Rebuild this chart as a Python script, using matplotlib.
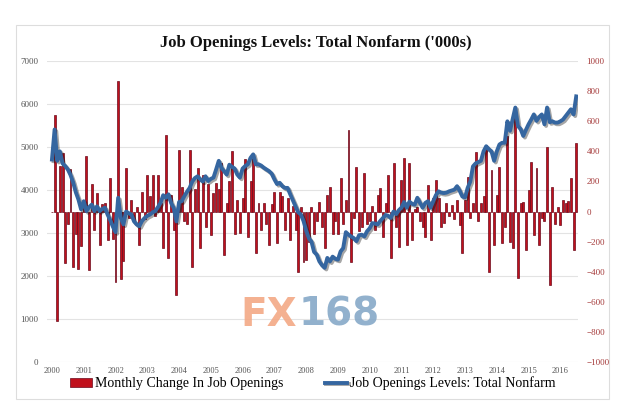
import numpy as np
import matplotlib.pyplot as plt
import matplotlib.patheffects as pe
from matplotlib.patches import Rectangle

# monthly job openings level ('000s), left axis
levels = [
    4710, 5410, 4680, 4900, 4620, 4560, 4480, 4350, 4180, 3950, 3780, 3550,
    3740, 3510, 3600, 3660, 3510, 3620, 3510, 3560, 3590, 3430, 3300, 3150,
    3020, 3820, 3350, 3200, 3500, 3460, 3430, 3270, 3200, 3160, 3280, 3350,
    3400, 3430, 3480, 3510, 3600, 3700, 3880, 3820, 3900, 3700, 3580, 3270,
    3720, 3740, 3860, 3960, 4050, 4200, 4280, 4320, 4250, 4200, 4320, 4210,
    4260, 4290, 4480, 4680, 4520, 4440, 4360, 4590, 4540, 4500, 4360, 4290,
    4500, 4560, 4600, 4750, 4830, 4600, 4600, 4570, 4520, 4480, 4440, 4380,
    4250, 4140, 4170, 4090, 4050, 4050, 3900, 3760, 3620, 3480, 3430, 3280,
    3060, 2880, 2800, 2560, 2500, 2340, 2250, 2190, 2420, 2340, 2450, 2400,
    2380, 2570, 2650, 3020, 2960, 2920, 2880, 2810, 2950, 2960, 2920, 3040,
    3110, 3230, 3220, 3200, 3280, 3350, 3420, 3400, 3350, 3500, 3440, 3530,
    3590, 3720, 3590, 3730, 3680, 3660, 3820, 3700, 3590, 3700, 3740, 3590,
    3740, 3880, 3970, 3940, 3930, 3940, 3970, 3990, 4010, 4090, 3980, 3850,
    3830, 4050, 4200, 4550, 4620, 4650, 4680, 4900, 5020, 4950, 4900, 4680,
    4900, 5060, 5100, 5100, 5600, 5380, 5650, 5920, 5490, 5420, 5260, 5400,
    5530, 5640, 5760, 5610, 5700, 5760, 5530, 5920, 5580, 5600, 5570, 5570,
    5600, 5640, 5720, 5800, 5880, 5760, 6180,
]

# monthly change ('000s), right axis
changes = [
    0, 640, -730, 300, 390, -340, -80, 280, -370, -150, -380, -230,
    60, 370, -390, 180, -120, 120, -220, 50, 60, -190, 220, -180,
    -470, 870, -450, -330, 290, -40, 80, -60, 30, -220, 130, -50,
    240, 100, 240, -30, 240, 60, -240, 510, -310, 110, -120, -555,
    410, 160, -60, -80, 410, -367, 150, 290, -245, 240, -100, 180,
    -156, 120, 190, 150, 320, -290, 60, 200, 400, -150, 80, -140,
    90, 350, -167, 200, 375, -278, 60, -123, 60, -80, -222, 50,
    130, -211, 130, 100, -120, 90, -189, 40, -120, -400, 30, -333,
    -322, -200, 30, -150, -60, 65, -100, -245, 110, 165, -150, -60,
    -150, 220, -80, 75, 541, -333, -40, 298, -130, -100, 254, -80,
    -60, 40, -120, 110, 154, -167, 60, 242, -311, 320, -100, -234,
    209, 353, -222, 320, -189, 20, 30, -60, -103, -167, 176, -189,
    90, 209, 90, -100, -78, 55, -33, 45, -50, 75, -90, -278,
    75, 231, -40, 60, 397, -60, 55, 100, 440, -400, 276, -222,
    110, 298, -211, -100, 500, -200, -245, 690, -444, 60, 65, -256,
    143, 331, -155, 287, -222, -40, -60, 431, -488, 165, -80, 30,
    -90, 75, 60, 70, 220, -256, 453,
]

years = list(range(2000, 2017))

t = 2000 + np.arange(len(levels)) / 12.0

plt.rcParams['font.family'] = ['Liberation Serif', 'DejaVu Serif']

fig = plt.figure(figsize=(6.25, 4.16), dpi=100)
fig.patches.append(Rectangle((0.025, 0.04), 0.95, 0.9, transform=fig.transFigure,
                             fill=False, edgecolor='#dddddd', linewidth=0.8))

ax = fig.add_axes([0.075, 0.130, 0.85, 0.723])
ax2 = ax.twinx()

ax.set_zorder(ax2.get_zorder() + 1)
ax.patch.set_visible(False)

ax2.bar(t, changes, width=0.062, color='#c0101c', edgecolor='#6a0a1c', linewidth=0.5,
        label='Monthly Change In Job Openings')
ax.plot(t, levels, color='#3566a0', linewidth=2.8, solid_joinstyle='round',
        label='Job Openings Levels: Total Nonfarm',
        path_effects=[pe.SimpleLineShadow(offset=(1.2, -1.2), alpha=0.35), pe.Normal()])

ax.set_ylim(0, 7000)
ax.set_yticks(range(0, 7001, 1000))
ax2.set_ylim(-1000, 1000)
ax2.set_yticks(range(-1000, 1001, 200))
ax.set_xlim(1999.84, 2016.56)
ax.set_xticks(years)
ax.set_xticklabels([str(y) for y in years])

for a in (ax, ax2):
    for s in a.spines.values():
        s.set_visible(False)
    a.tick_params(length=0)
ax.tick_params(axis='y', labelsize=6.5, labelcolor='#555555', pad=6)
ax.tick_params(axis='x', labelsize=6, labelcolor='#555555', pad=4)
ax2.tick_params(axis='y', labelsize=6.5, labelcolor='#a53a3a', pad=6)

# horizontal gridlines at the left-axis ticks, drawn under the bars
for g in range(0, 7001, 1000):
    ax2.axhline(-1000 + g * 2000 / 7000, color='#e3e3e3', linewidth=0.8, zorder=0)

fig.text(0.505, 0.897, "Job Openings Levels: Total Nonfarm ('000s)", ha='center', va='center',
         fontsize=12, fontweight='bold', color='#111111')

fig.text(0.384, 0.243, 'FX', ha='left', va='center', fontsize=28, fontweight='bold',
         color='#f3a985', family='DejaVu Sans', alpha=0.9)
fig.text(0.478, 0.243, '168', ha='left', va='center', fontsize=28, fontweight='bold',
         color='#86a9c8', family='DejaVu Sans', alpha=0.9)

h1, l1 = ax2.get_legend_handles_labels()
h2, l2 = ax.get_legend_handles_labels()
fig.legend(h1 + h2, l1 + l2, loc='center', bbox_to_anchor=(0.5, 0.078), ncol=2,
           frameon=False, fontsize=10, handlelength=1.6, handletextpad=0.2, columnspacing=3.0)

fig.savefig('out.png', dpi=100)
